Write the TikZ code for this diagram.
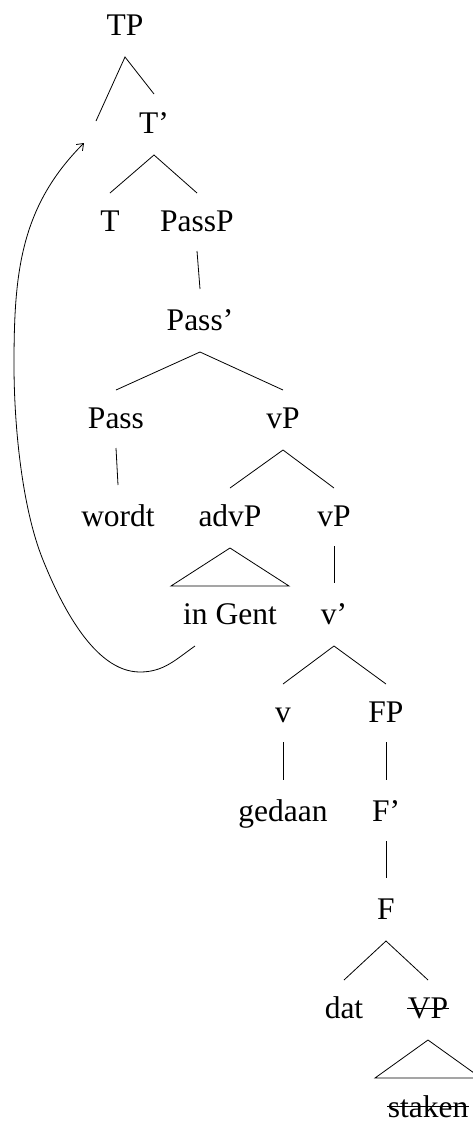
\documentclass[tikz,border=0pt]{standalone}
\usepackage{fontspec}
\setmainfont{Liberation Serif}
\usetikzlibrary{arrows.meta}

% unary, binary and roof connectors of the syntax tree
\newcommand\tun[2]{\draw ([yshift=-20pt]#1.base) -- ([yshift=41pt]#2.base);}
\newcommand\tbin[3]{\draw ([yshift=38pt]#2.base) -- ([yshift=-22pt]#1.base) -- ([yshift=38pt]#3.base);}
\newcommand\troof[2]{\draw ([yshift=-22pt]#1.base) -- ([shift={(-#2,-60pt)}]#1.base) -- ([shift={(#2,-60pt)}]#1.base) -- cycle;}

\begin{document}
\begin{tikzpicture}[x=1pt,y=1pt,line width=0.8pt,
  lbl/.style={inner sep=0pt,anchor=base,font=\fontsize{31.5}{36}\selectfont},
  strike/.style={line width=0.8pt}]
\useasboundingbox (0,0) rectangle (473,-1127);

% labels, one per tree position
\node[lbl] (TP)     at (125,-35)    {TP};
\node[lbl] (Tbar)   at (154,-133)   {T’};
\node[lbl] (T)      at (110,-231)   {T};
\node[lbl] (PassP)  at (197,-231)   {PassP};
\node[lbl] (Passb)  at (200,-330)   {Pass’};
\node[lbl] (Pass)   at (116,-428)   {Pass};
\node[lbl] (vPa)    at (283,-428)   {vP};
\node[lbl] (wordt)  at (118,-526)   {wordt};
\node[lbl] (advP)   at (230,-526)   {advP};
\node[lbl] (vPb)    at (334,-526)   {vP};
\node[lbl] (gent)   at (230,-624)   {in Gent};
\node[lbl] (vbar)   at (334,-624)   {v’};
\node[lbl] (v)      at (283,-722)   {v};
\node[lbl] (FP)     at (386,-722)   {FP};
\node[lbl] (gedaan) at (283,-821)   {gedaan};
\node[lbl] (Fbar)   at (386,-821)   {F’};
\node[lbl] (F)      at (386,-919)   {F};
\node[lbl] (dat)    at (344,-1018)  {dat};
\node[lbl] (VP)     at (428,-1018)  {VP};
\node[lbl] (staken) at (428,-1117)  {staken};

% empty specifier of TP and the landing point of the movement arrow
\coordinate (gap)     at (96,-121);
\coordinate (landing) at (84,-143);

% branches
\draw (gap) -- ([yshift=-22pt]TP.base) -- ([yshift=39pt]Tbar.base);
\tbin{Tbar}{T}{PassP}
\tun{PassP}{Passb}
\tbin{Passb}{Pass}{vPa}
\tun{Pass}{wordt}
\tbin{vPa}{advP}{vPb}
\troof{advP}{59pt}
\tun{vPb}{vbar}
\tbin{vbar}{v}{FP}
\tun{v}{gedaan}
\tun{FP}{Fbar}
\tun{Fbar}{F}
\tbin{F}{dat}{VP}
\troof{VP}{53pt}

% deleted copies
\draw[strike] ([yshift=10pt]VP.base west) -- ([yshift=10pt]VP.base east);
\draw[strike] ([yshift=11pt]staken.base west) -- ([yshift=11pt]staken.base east);

% movement of the adverbial phrase
\draw[-{Straight Barb[length=6pt,width=9pt]}]
  ([shift={(-35pt,-22pt)}]gent.base)
  to[out=215,in=0] (140,-672)
  to[out=180,in=-68,looseness=0.8] (43,-560)
  to[out=112,in=-90,looseness=0.75] (14,-365)
  to[out=90,in=225] (landing);
\end{tikzpicture}
\end{document}
